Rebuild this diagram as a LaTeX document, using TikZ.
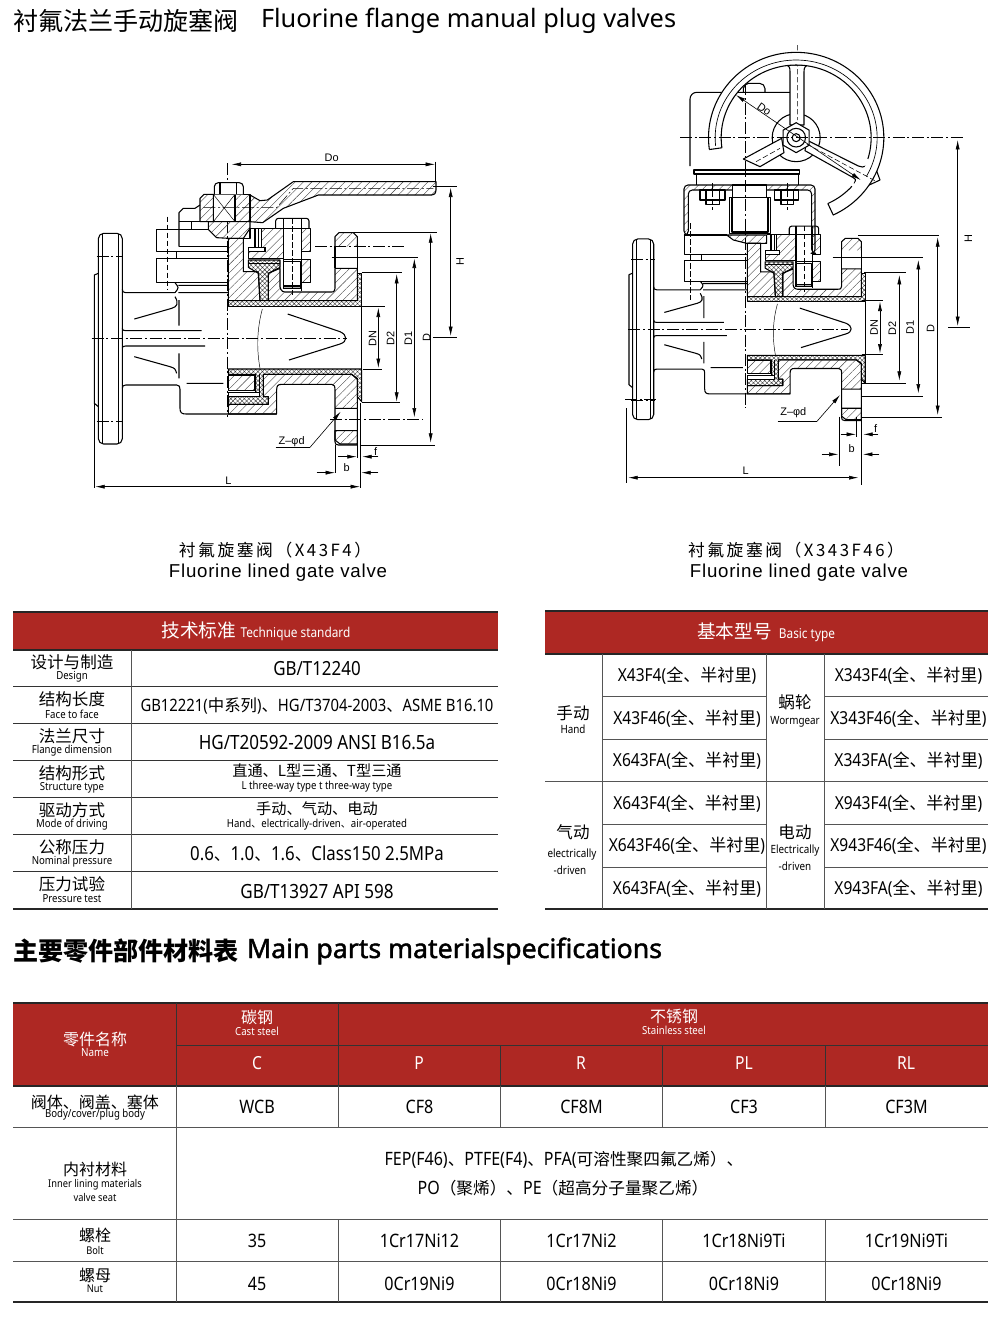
\documentclass[tikz,border=0pt]{standalone}
\usepackage{fontspec}
\usetikzlibrary{arrows.meta,patterns.meta}
\setmainfont{Noto Sans}
\newfontfamily\en[FakeStretch=0.87]{Noto Sans}
\newfontfamily\enb[FakeBold=1.6]{Noto Sans}
\newfontfamily\zh{Noto Sans CJK SC}
\newfontfamily\dimf{Liberation Sans}
\newfontfamily\capen[LetterSpace=4]{Liberation Sans}
\newfontfamily\capzh[LetterSpace=15]{Noto Sans CJK SC}
\newcommand\fs[1]{\fontsize{#1}{#1}\selectfont}
\newcommand\Z[1]{{\zh #1}}
\newcounter{nd}
\definecolor{redh}{HTML}{AE2823}
\definecolor{rule}{HTML}{555555}
\tikzset{
 vl/.style={line width=.8pt,black,line join=round},
 thinl/.style={line width=.35pt,black},
 cl/.style={line width=.4pt,black,dash pattern=on 9pt off 2pt on 1.5pt off 2pt},
 dl/.style={line width=.4pt,black,dash pattern=on 4pt off 2pt},
 hat/.style={pattern={Lines[angle=45,distance=4.4pt,line width=.28pt]},pattern color=black!75},
 crs/.style={pattern={Hatch[angle=45,distance=2.4pt,line width=.3pt]},pattern color=black!80},
 dm/.style={line width=.45pt,black,>={Latex[length=7pt,width=3pt]}},
 ex/.style={line width=.4pt,black},
 txt/.style={inner sep=0pt,outer sep=0pt,align=center,text=black},
 wtxt/.style={txt,text=white},
 dtxt/.style={txt,font=\dimf\fs{8.2}},
 grid/.style={line width=.7pt,rule},
 hrule/.style={line width=1pt,black!85},
}
% text node: #1 options, #2 x, #3 y, #4 text
\newcommand\T[4][txt]{\stepcounter{nd}\node[#1,name=n\arabic{nd}] at (#2,#3) {#4};}
% the part the two valves have in common, in the left valve's zoomed coordinates
\newcommand\valvebody{
 \draw[vl] (55,400)--(43,405)--(43,790)--(55,800);
 \draw[vl,fill=white,rounded corners=4pt] (55,280) rectangle (127,912);
 \draw[thinl] (68,283)--(68,909) (115,283)--(115,909);
 \draw[cl] (50,350)--(130,350) (50,843)--(130,843);
 \draw[vl] (127,448)..controls(128,456)..(137,458)--(285,458);
 \draw[vl] (127,745)..controls(128,737)..(137,735)--(290,735)..controls(298,735)and(300,740)..(300,748)--(300,805)..controls(300,818)and(305,822)..(318,822)--(590,822);
 \draw[vl] (230,268)--(230,335)--(445,335) (290,335)--(290,355);
 \draw[vl] (230,355) rectangle (445,428);
 \draw[vl] (285,428)..controls(297,443)..(285,458) (295,436)--(445,436) (295,458)--(445,458);
 % plug
 \draw[vl] (163,537)--(275,505)..controls(292,500)and(297,490)..(285,470) (297,480)--(297,557);
 \draw[vl] (127,565)..controls(128,571)..(137,572)--(365,572) (127,625)..controls(128,619)..(137,618)--(375,618);
 \draw[vl] (163,650)--(270,680)..controls(285,685)..(290,700) (297,640)--(297,715) (320,730)--(430,730);
 \draw[vl] (623,522)--(780,575)..controls(803,585)and(803,605)..(780,612)--(627,660);
 \draw[thinl] (547,507)..controls(530,570)and(530,630)..(540,685);
 % upper body
 \draw[vl,hat] (445,295)--(490,295)--(490,395)--(535,395)--(540,482)--(445,482)--cycle;
 \draw[vl,hat] (545,265)--(610,265)--(610,355)--(505,355)--(505,335)--(555,335)--(555,322)--(545,322)--cycle;
 \draw[vl] (510,265)--(545,265) (510,265)--(510,295)--(490,295);
 \draw[vl,hat] (665,265)--(692,265)--(692,335)--(665,335)--cycle;
 \draw[vl,hat] (665,358)--(692,358)--(692,428)--(665,428)--cycle;
 \draw[vl] (610,358)--(665,358);
 \draw[vl,fill=white] (525,265) rectangle (545,322);
 \draw[thinl] (535,265)--(535,322);
 \draw[vl,fill=white] (505,322) rectangle (555,335);
 \draw[vl,hat] (565,400)--(600,385)--(600,430)..controls(598,445)and(604,456)..(615,456)--(752,456)..controls(762,456)..(765,445)--(765,385)--(832,385)--(832,482)--(565,482)--cycle;
 \draw[vl,crs] (505,360)--(600,360)--(600,382)--(565,400)--(565,482)--(540,482)--(535,400)--(505,382)--cycle;
 \draw[thinl] (505,370)--(600,370);
 \draw[vl,fill=white,rounded corners=2pt] (587,265)--(587,235)--(687,235)--(687,265);
 \draw[vl] (610,235)--(610,365) (665,235)--(665,452) (587,265)--(690,265);
 \draw[vl,fill=white] (610,365) rectangle (662,445);
 \draw[vl,fill=black!30] (610,438) rectangle (662,445);
 \draw[dl] (637,235)--(637,465);
 % top of flange
 \draw[vl,hat] (765,320)--(765,290)--(777,278)--(820,278)--(832,290)--(832,320);
 \draw[vl] (765,320)--(765,385) (832,320)--(832,385);
 % lining
 \draw[vl,crs] (445,482)--(832,482)--(832,400)--(845,400)--(845,500)--(445,500)--cycle;
 \draw[vl,crs] (445,687)--(845,687)--(845,785)--(832,770)--(832,715)--(815,703)--(550,703)--(550,770)--(565,770)--(565,793)--(445,793)--(445,770)--(527,770)--(527,703)--(445,703)--cycle;
 \draw[vl,hat] (445,705) rectangle (525,752);
 \draw[vl,fill=white] (445,757) rectangle (538,770);
 \draw[vl] (538,703)--(538,770);
 \draw[thinl] (845,500)--(845,687);
 \draw[vl,hat] (550,703)--(815,703)--(832,718)--(832,805)--(765,805)--(765,748)..controls(765,738)..(755,733)--(605,733)..controls(593,733)and(590,738)..(590,750)--(590,822)--(445,822)--(445,793)--(565,793)--(565,770)--(550,770)--cycle;
 \draw[vl] (765,805)--(765,905)..controls(766,913)..(775,915)--(832,915)--(832,805);
 \draw[vl,hat] (765,872)--(832,872)--(832,912)--(780,912)--(765,900)--cycle;
}
\begin{document}
\begin{tikzpicture}[x=.75pt,y=-.75pt]
\useasboundingbox (0,0) rectangle (1000,1340);
\fill[white] (0,0) rectangle (1000,1340);

% ---------- titles
\T[txt,anchor=west]{13}{21}{\fs{18.8}\zh 衬氟法兰手动旋塞阀}
\T[txt,anchor=west]{261}{21}{\fs{19}\rmfamily Fluorine flange manual plug valves}
\T{275}{550}{\fs{12.6}\capzh 衬氟旋塞阀（X43F4）}
\T{278}{573}{\fs{14}\capen Fluorine lined gate valve}
\T{796}{550}{\fs{12.6}\capzh 衬氟旋塞阀（X343F46）}
\T{799}{573}{\fs{14}\capen Fluorine lined gate valve}
\T[txt,anchor=west]{13}{951}{\fs{18.8}\zh\bfseries 主要零件部件材料表}
\T[txt,anchor=west]{247}{951}{\fs{20}\enb Main parts materialspecifications}

% ---------- left valve
\begin{scope}[shift={(80,140)},x=.25pt,y=-.25pt]
 \valvebody
 \draw[cl] (35,595)--(800,595);
 \draw[cl] (443,70)--(443,830);
 \draw[dl] (262,230)--(262,450);
 % handle group
 \draw[vl] (297,320)--(297,218)--(310,205)--(345,205)--(360,195);
 \draw[vl] (230,268)--(297,268) (297,245)--(385,245) (297,268)--(385,268) (335,245)--(335,268) (297,320)--(445,320);
 \draw[vl,hat] (385,245)--(510,245)--(510,265)--(490,295)--(445,295)--(410,293)--(385,268)--cycle;
 \draw[vl,hat] (640,125)--(1068,125)--(1068,150)..controls(1066,162)..(1055,165)--(715,165)--(610,205)--(548,248)--(510,245)--(510,165)--(540,182)--(562,180)--cycle;
 \draw[vl,hat] (360,245)--(360,175)--(372,163)--(400,163)--(400,245)--cycle;
 \draw[vl,hat] (465,163) rectangle (510,245);
 \draw[vl,fill=white] (400,163) rectangle (465,245);
 \draw[thinl] (400,163)--(465,245) (465,163)--(400,245);
 \draw[vl,fill=white,rounded corners=3pt] (403,163)--(403,128)--(490,128)--(490,163);
 \draw[vl] (420,128)--(420,163) (470,128)--(470,163);
 \draw[cl] (370,203)--(590,203)--(640,145)--(1060,145);
 \draw[cl] (705,320)--(980,320) (750,837)--(1030,837);
 % extension lines
 \draw[ex] (1067,65)--(1067,125) (1060,140)--(1130,140) (1060,592)--(1130,592)
  (815,276)--(1072,276) (842,915)--(1065,915) (755,352)--(1015,352)
  (845,398)--(965,398) (845,787)--(960,787) (845,500)--(915,500) (850,687)--(905,687)
  (43,790)--(43,1045) (842,790)--(842,1045) (765,915)--(765,1000) (832,915)--(832,955);
 % dimensions
 \draw[dm,<->] (455,73)--(1065,73);
 \draw[dm,<->] (1112,143)--(1112,588);
 \draw[dm,<->] (1052,280)--(1052,908);
 \draw[dm,<->] (1003,356)--(1003,832);
 \draw[dm,<->] (950,402)--(950,785);
 \draw[dm,<->] (895,503)--(895,684);
 \draw[dm,<->] (46,1040)--(840,1040);
 \draw[dm,->] (710,998)--(765,998);
 \draw[dm,->] (895,998)--(844,998);
 \draw[dm,->] (775,950)--(830,950);
 \draw[dm,->] (895,950)--(847,950);
 \draw[ex] (587,922)--(690,922);
 \draw[dm,->] (690,922)--(782,815);
 \T[dtxt]{755}{52}{Do}
 \T[dtxt,rotate=90]{1140}{365}{H}
 \T[dtxt,rotate=90]{1040}{592}{D}
 \T[dtxt,rotate=90]{985}{595}{D1}
 \T[dtxt,rotate=90]{932}{595}{D2}
 \T[dtxt,rotate=90]{878}{595}{DN}
 \T[dtxt]{445}{1022}{L}
 \T[dtxt]{800}{982}{b}
 \T[dtxt]{887}{935}{f}
 \T[dtxt]{635}{904}{Z–φd}
\end{scope}

% ---------- right valve: lower part
\begin{scope}[shift={(616.34,158.83)},x=.2209pt,y=-.2145pt]
 \valvebody
\end{scope}
\begin{scope}[shift={(610,40)},x=.25pt,y=-.25pt]
 \draw[vl] (222,585)--(350,585);
 \draw[vl,hat] (350,585)--(470,585)--(470,610)--(410,610)--(370,600)--cycle;
 % gearbox
 \draw[vl,rounded corners=5pt] (540,157)--(240,157)--(240,378);
 \draw[vl,rounded corners=4pt] (400,157)--(400,130)--(465,130)--(465,157);
 \draw[vl] (252,390) rectangle (568,402);
 \draw[vl] (260,402)--(260,435) (565,402)--(565,435);
 % yoke
 \draw[vl,hat,rounded corners=3pt] (222,585)--(222,435)--(615,435)--(615,640)--(605,640)--(605,450)--(235,450)--(235,585)--cycle;
 \draw[vl,fill=white] (270,450) rectangle (345,480);
 \draw[vl,fill=white] (288,480) rectangle (328,493);
 \draw[vl,fill=white] (493,450) rectangle (565,480);
 \draw[vl,fill=white] (513,480) rectangle (550,493);
 \draw[vl] (288,450)--(288,480) (328,450)--(328,480) (513,450)--(513,480) (550,450)--(550,480);
 \draw[dl] (307,430)--(307,510) (531,430)--(531,510);
 \draw[vl,fill=white] (368,435) rectangle (470,473);
 \draw[vl,fill=white] (358,473) rectangle (482,580);
 \draw[vl] (366,473)--(366,576)--(474,576)--(474,473);
 \draw[dl] (240,550)--(240,780);
 \draw[cl] (55,867)--(715,867);
 \draw[cl] (405,130)--(405,1105);
 \draw[cl] (45,1077)--(145,1077);
 % handwheel
 \draw[vl,fill=white] (558.5,293) circle[radius=18pt];
 \draw[vl,fill=white] (528,75)..controls(538,78)and(540,82)..(540,95)--(540,255)--(582,255)--(582,95)..controls(582,82)and(586,76)..(598,75)--cycle;
 \draw[vl,fill=white] (515,295)--(400,357)--(450,380)--(522,338)--cycle;
 \draw[vl,fill=white] (590,300)--(745,378)..controls(762,386)and(776,378)..(786,355)--(810,420)--(745,450)--(733,430)..controls(738,418)..(728,412)--(585,332)--cycle;
 \draw[dl] (438,365)--(510,325) (562,15)--(562,240);
 \fill[white]
   plot[domain=188:-65,samples=90] ({558.5+263*cos(\x)},{293-256*sin(\x)})
   -- plot[domain=-65:188,samples=90] ({558.5+225*cos(\x)},{293-218*sin(\x)}) -- cycle;
 \draw[vl] plot[domain=188:-65,samples=90] ({558.5+263*cos(\x)},{293-256*sin(\x)})
   -- ({558.5+225*cos(-65)},{293-218*sin(-65)});
 \draw[vl] plot[domain=-65:-42,samples=15] ({558.5+225*cos(\x)},{293-218*sin(\x)});
 \draw[vl] ({558.5+263*cos(188)},{293-256*sin(188)})
   -- plot[domain=188:-17,samples=70] ({558.5+225*cos(\x)},{293-218*sin(\x)});
 \draw[thinl,line width=.5pt] plot[domain=186:-30,samples=70] ({558.5+243*cos(\x)},{293-233*sin(\x)});
 \draw[vl,fill=white] (558.5,248)--(597.5,270.5)--(597.5,315.5)--(558.5,338)--(519.5,315.5)--(519.5,270.5)--cycle;
 \draw[vl] (558.5,293) circle[radius=7pt];
 \draw[vl] (558.5,293) circle[radius=3pt];
 \draw[dl] (590,312)--(800,425);
 \draw[cl] (210,293)--(1065,293);
 % extension lines
 \draw[ex] (1015,862)--(1080,862) (745,585)--(988,585) (755,1133)--(995,1133)
  (668,652)--(938,652) (755,1068)--(940,1068) (762,697)--(887,697) (755,1030)--(887,1030)
  (755,782)--(820,782) (755,943)--(820,943) (50,1105)--(50,1330) (755,1030)--(755,1335)
  (687,1130)--(687,1278) (740,1130)--(740,1192);
 % dimensions
 \draw[dm,<->] (378,165)--(752,420);
 \draw[dm,<->] (1043,300)--(1043,858);
 \draw[dm,<->] (983,592)--(983,1125);
 \draw[dm,<->] (925,660)--(925,1060);
 \draw[dm,<->] (868,705)--(868,1022);
 \draw[dm,<->] (810,785)--(810,940);
 \draw[dm,<->] (55,1313)--(745,1313);
 \draw[dm,->] (635,1243)--(685,1243);
 \draw[dm,->] (808,1243)--(759,1243);
 \draw[dm,->] (692,1183)--(738,1183);
 \draw[dm,->] (805,1183)--(760,1183);
 \draw[ex] (503,1145)--(620,1145);
 \draw[dm,->] (620,1145)--(690,1065);
 \T[dtxt,rotate=-35]{463}{207}{Do}
 \T[dtxt,rotate=90]{1075}{595}{H}
 \T[dtxt,rotate=90]{962}{865}{D}
 \T[dtxt,rotate=90]{900}{863}{D1}
 \T[dtxt,rotate=90]{847}{865}{D2}
 \T[dtxt,rotate=90]{792}{863}{DN}
 \T[dtxt]{407}{1293}{L}
 \T[dtxt]{725}{1225}{b}
 \T[dtxt]{797}{1167}{f}
 \T[dtxt]{550}{1118}{Z–φd}
\end{scope}

% ---------- technique standard table
\fill[redh] (13,612) rectangle (498,650);
\draw[hrule] (13,612)--(498,612) (13,650)--(498,650) (13,909)--(498,909);
\foreach \y in {686,723,760,797,834,871} \draw[grid,black!80] (13,\y)--(498,\y);
\draw[grid] (131,650)--(131,909);
\T[wtxt]{256}{631}{\fs{14}\zh 技术标准 \fs{10.2}\en Technique standard}
\newcommand\rowA[3]{\T{72}{#1}{\fs{12.4}\zh #2}\T{72}{#1+15}{\fs{8.3}\en #3}}
\rowA{662}{设计与制造}{Design}
\rowA{699}{结构长度}{Face to face}
\rowA{736}{法兰尺寸}{Flange dimension}
\rowA{773}{结构形式}{Structure type}
\rowA{810}{驱动方式}{Mode of driving}
\rowA{847}{公称压力}{Nominal pressure}
\rowA{884}{压力试验}{Pressure test}
\T{317}{669}{\fs{14.6}\en GB/T12240}
\T{317}{706}{\fs{12.8}\en GB12221(\Z{\fs{12.3}中系列})\Z{\fs{12.3}、}HG/T3704-2003\Z{\fs{12.3}、}ASME B16.10}
\T{317}{743}{\fs{14.7}\en HG/T20592-2009 ANSI B16.5a}
\T{317}{771}{\fs{11.4}\zh 直通、L型三通、T型三通}
\T{317}{787}{\fs{8.3}\en L three-way type t three-way type}
\T{317}{809}{\fs{11.4}\zh 手动、气动、电动}
\T{317}{825}{\fs{8.3}\en Hand\Z{\fs{7.5}、}electrically-driven\Z{\fs{7.5}、}air-operated}
\T{317}{854}{\fs{14.5}\en 0.6\Z{\fs{12.5}、}1.0\Z{\fs{12.5}、}1.6\Z{\fs{12.5}、}Class150 2.5MPa}
\T{317}{891}{\fs{14.7}\en GB/T13927 API 598}

% ---------- basic type table
\fill[redh] (545,611) rectangle (988,654);
\draw[hrule] (545,611)--(988,611) (545,654)--(988,654) (545,909)--(988,909);
\foreach \y in {696,739,824,867} \draw[grid] (602,\y)--(766,\y) (824,\y)--(988,\y);
\draw[grid] (545,781)--(988,781);
\foreach \x in {602,766,824} \draw[grid] (\x,654)--(\x,909);
\T[wtxt]{766}{632}{\fs{14}\zh 基本型号 \fs{10.2}\en\ Basic type}
\T{573}{713}{\fs{12.4}\zh 手动}
\T{573}{729}{\fs{8.5}\en Hand}
\T{573}{832}{\fs{12.4}\zh 气动}
\T{572}{855}{\fs{8.5}\en electrically}
\T{570}{870}{\fs{8.5}\en -driven}
\T{795}{702}{\fs{12.4}\zh 蜗轮}
\T{795}{722}{\fs{8.5}\en Wormgear}
\T{795}{832}{\fs{12.4}\zh 电动}
\T{795}{851}{\fs{8.5}\en Electrically}
\T{795}{866}{\fs{8.5}\en -driven}
\newcommand\mdl[3]{\T{#1}{#2}{\fs{13.4}\en #3(\Z{\fs{12.8}全、半衬里})}}
\mdl{687}{676}{X43F4}\mdl{687}{718.5}{X43F46}\mdl{687}{761}{X643FA}
\mdl{687}{804}{X643F4}\mdl{687}{846}{X643F46}\mdl{687}{889}{X643FA}
\mdl{908.5}{676}{X343F4}\mdl{908.5}{718.5}{X343F46}\mdl{908.5}{761}{X343FA}
\mdl{908.5}{804}{X943F4}\mdl{908.5}{846}{X943F46}\mdl{908.5}{889}{X943FA}

% ---------- materials table
\fill[redh] (13,1003) rectangle (988,1086);
\draw[hrule] (13,1003)--(988,1003) (13,1086)--(988,1086) (13,1302)--(988,1302);
\draw[line width=.6pt,black!80] (176,1045)--(988,1045) (176,1003)--(176,1086) (338,1003)--(338,1086);
\draw[line width=.6pt,black!80] (500,1045)--(500,1086) (662,1045)--(662,1086) (825,1045)--(825,1086);
\draw[grid] (13,1127)--(988,1127) (13,1219)--(988,1219) (13,1261)--(988,1261);
\draw[grid] (176,1086)--(176,1302);
\foreach \x in {338,500,662,825} \draw[grid] (\x,1086)--(\x,1127) (\x,1219)--(\x,1302);
\T[wtxt]{95}{1039}{\fs{12}\zh 零件名称}
\T[wtxt]{95}{1052}{\fs{8.5}\en Name}
\T[wtxt]{257}{1017}{\fs{12}\zh 碳钢}
\T[wtxt]{257}{1031}{\fs{8.3}\en Cast steel}
\T[wtxt]{674}{1016}{\fs{12}\zh 不锈钢}
\T[wtxt]{674}{1030}{\fs{8.3}\en Stainless steel}
\T[wtxt]{257}{1063}{\fs{13.5}\en C}
\T[wtxt]{419}{1063}{\fs{13.5}\en P}
\T[wtxt]{581}{1063}{\fs{13.5}\en R}
\T[wtxt]{744}{1063}{\fs{13.5}\en PL}
\T[wtxt]{906}{1063}{\fs{13.5}\en RL}
\T{95}{1102}{\fs{12}\zh 阀体、阀盖、塞体}
\T{95}{1115}{\fs{8.3}\en Body/cover/plug body}
\T{95}{1169}{\fs{12}\zh 内衬材料}
\T{95}{1185}{\fs{8}\en Inner lining materials}
\T{95}{1197}{\fs{8}\en valve seat}
\T{95}{1235}{\fs{12}\zh 螺栓}
\T{95}{1250}{\fs{8}\en Bolt}
\T{95}{1275}{\fs{12}\zh 螺母}
\T{95}{1289}{\fs{8}\en Nut}
\newcommand\vals[6]{\T{257}{#1}{\fs{13.9}\en #2}\T{419.5}{#1}{\fs{13.9}\en #3}\T{581.5}{#1}{\fs{13.9}\en #4}\T{744}{#1}{\fs{13.9}\en #5}\T{906.5}{#1}{\fs{13.9}\en #6}}
\vals{1107}{WCB}{CF8}{CF8M}{CF3}{CF3M}
\vals{1241}{35}{1Cr17Ni12}{1Cr17Ni2}{1Cr18Ni9Ti}{1Cr19Ni9Ti}
\vals{1284}{45}{0Cr19Ni9}{0Cr18Ni9}{0Cr18Ni9}{0Cr18Ni9}
\T{564}{1160}{\fs{13.8}\en FEP(F46)\Z{\fs{12.5}、}PTFE(F4)\Z{\fs{12.5}、}PFA(\Z{\fs{12.5}可溶性聚四氟乙烯）、}}
\T{563}{1188}{\fs{13.8}\en PO\Z{\fs{12.5}（聚烯）、}PE\Z{\fs{12.5}（超高分子量聚乙烯）}}
\end{tikzpicture}
\end{document}
